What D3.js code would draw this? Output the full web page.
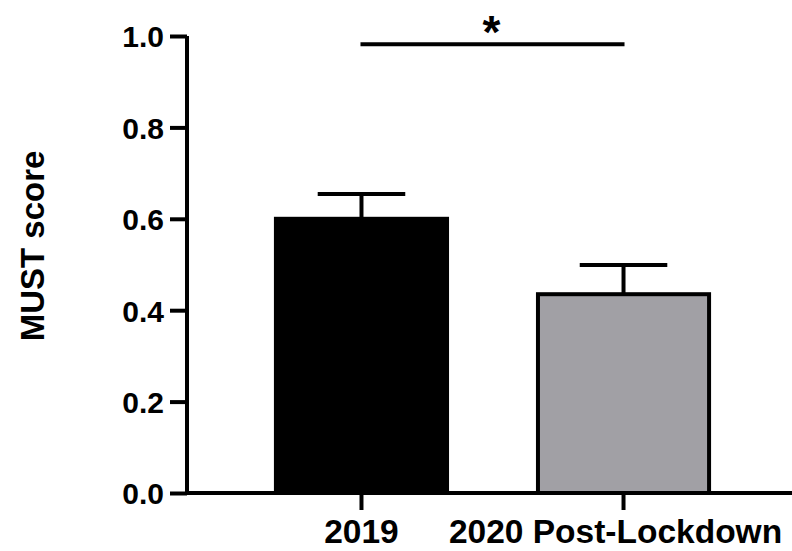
<!DOCTYPE html>
<html>
<head>
<meta charset="utf-8">
<script src="https://cdn.jsdelivr.net/npm/d3@7"></script>
<style>
  html, body { margin: 0; padding: 0; background: #fff; }
  svg { display: block; }
  text { font-family: "Liberation Sans", Arial, sans-serif; font-weight: bold; fill: #000; }
</style>
</head>
<body>
<svg id="chart" width="792" height="551"></svg>
<script>
const categories = ["2019", "2020 Post-Lockdown"];
const means = [0.60, 0.435];
const sems = [0.054, 0.064];
const barColors = ["#000000", "#a1a0a5"];
const yTicks = [0.0, 0.2, 0.4, 0.6, 0.8, 1.0];
const yLabel = "MUST score";
const sigLevel = 0.982;
const sigText = "*";

const svg = d3.select("#chart");
const y = d3.scaleLinear().domain([0, 1]).range([493, 36]);
const x = d3.scaleBand().domain(categories).range([185, 800]).paddingInner(0.347).paddingOuter(0.347);
const axisX = 187;
const lw = 4;

// bars
svg.selectAll("rect.bar").data(categories).enter().append("rect")
  .attr("class", "bar")
  .attr("x", d => x(d))
  .attr("width", x.bandwidth())
  .attr("y", (d, i) => y(means[i]))
  .attr("height", (d, i) => y(0) - y(means[i]))
  .attr("fill", (d, i) => barColors[i])
  .attr("stroke", "#000")
  .attr("stroke-width", lw);

// error bars (upper only)
categories.forEach((c, i) => {
  const cx = x(c) + x.bandwidth() / 2;
  const top = y(means[i] + sems[i]);
  svg.append("line").attr("x1", cx).attr("x2", cx)
    .attr("y1", y(means[i])).attr("y2", top)
    .attr("stroke", "#000").attr("stroke-width", lw);
  svg.append("line").attr("x1", cx - x.bandwidth() / 4 - 1).attr("x2", cx + x.bandwidth() / 4 + 1)
    .attr("y1", top).attr("y2", top)
    .attr("stroke", "#000").attr("stroke-width", lw);
});

// y axis
const yAxis = d3.axisLeft(y).tickValues(yTicks).tickFormat(d3.format(".1f")).tickSizeInner(17).tickSizeOuter(0).tickPadding(6);
const gy = svg.append("g").attr("transform", `translate(${axisX},0)`).call(yAxis);
gy.select(".domain").attr("stroke-width", lw).attr("stroke", "#000").attr("d", `M0,${y(1)}V${y(0) + lw/2}`);
gy.selectAll(".tick line").attr("stroke-width", lw).attr("stroke", "#000");
gy.selectAll(".tick text").style("font-size", "30px").attr("dy", "0.36em");

// x axis
const xAxis = d3.axisBottom(x).tickSizeInner(17).tickSizeOuter(0).tickPadding(9);
const gx = svg.append("g").attr("transform", `translate(0,${y(0)})`).call(xAxis);
gx.select(".domain").attr("stroke-width", lw).attr("stroke", "#000").attr("d", `M${axisX - lw/2},0H792`);
gx.selectAll(".tick line").attr("stroke-width", lw).attr("stroke", "#000");
gx.selectAll(".tick text").style("font-size", "33.5px").attr("dy", "0.71em")
  .attr("dx", (d, i) => i === 1 ? -8 : 0);

// y label
svg.append("text")
  .attr("transform", `translate(44,246) rotate(-90)`)
  .attr("text-anchor", "middle")
  .style("font-size", "33px")
  .text(yLabel);

// significance
const c0 = x(categories[0]) + x.bandwidth() / 2;
const c1 = x(categories[1]) + x.bandwidth() / 2;
svg.append("line").attr("x1", c0 - 1).attr("x2", c1 + 1)
  .attr("y1", y(sigLevel)).attr("y2", y(sigLevel))
  .attr("stroke", "#000").attr("stroke-width", lw);
svg.append("text")
  .attr("x", (c0 + c1) / 2 - 1)
  .attr("y", 48)
  .attr("text-anchor", "middle")
  .style("font-size", "46px")
  .text(sigText);
</script>
</body>
</html>
